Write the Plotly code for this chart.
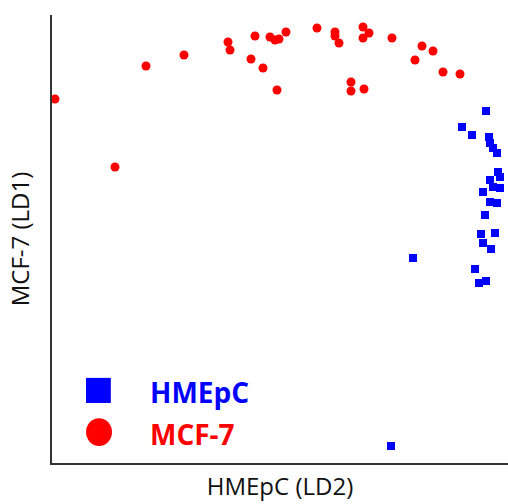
import plotly.graph_objects as go

# LD2 (x) and LD1 (y) scores (arbitrary units)
mcf7_ld2 = [3, 63, 94, 132, 176, 178, 203, 199, 211, 218, 223, 227, 234, 225, 265,
            283, 283, 287, 311, 317, 311, 340, 370, 381, 363, 391, 408, 299, 299, 312]
mcf7_ld1 = [364, 296, 397, 408, 421, 413, 427, 404, 395, 426, 423, 424, 431, 373, 435,
            431, 427, 420, 436, 430, 425, 425, 417, 412, 403, 391, 389, 381, 372, 374]

hmepc_ld2 = [434, 410, 420, 437, 438, 441, 445, 446, 448, 438, 441, 448, 431, 438, 445,
             433, 429, 443, 431, 439, 361, 423, 427, 434, 339]
hmepc_ld1 = [352, 336, 328, 326, 320, 315, 310, 291, 286, 283, 276, 275, 271, 261, 260,
             248, 229, 230, 220, 214, 205, 194, 180, 182, 17]

series_names = ["HMEpC", "MCF-7"]
series_colors = ["#0000ff", "#ff0000"]

fig = go.Figure()
fig.add_trace(go.Scatter(x=hmepc_ld2, y=hmepc_ld1, mode="markers", name=series_names[0],
                         marker=dict(symbol="square", size=8, color=series_colors[0]),
                         showlegend=False, cliponaxis=False))
fig.add_trace(go.Scatter(x=mcf7_ld2, y=mcf7_ld1, mode="markers", name=series_names[1],
                         marker=dict(symbol="circle", size=9, color=series_colors[1]),
                         showlegend=False, cliponaxis=False))

# legend drawn as large symbols with coloured bold labels
fig.add_shape(type="rect", xref="paper", yref="paper", x0=0.0746, x1=0.129, y0=0.134, y1=0.190,
              fillcolor=series_colors[0], line=dict(width=0))
fig.add_shape(type="circle", xref="paper", yref="paper", x0=0.0746, x1=0.1316, y0=0.038, y1=0.100,
              fillcolor=series_colors[1], line=dict(width=0))
fig.add_annotation(xref="paper", yref="paper", x=0.21, y=0.158, xanchor="left", yanchor="middle",
                   text="<b>" + series_names[0] + "</b>", showarrow=False,
                   font=dict(family="Open Sans", size=28, color=series_colors[0]))
fig.add_annotation(xref="paper", yref="paper", x=0.21, y=0.064, xanchor="left", yanchor="middle",
                   text="<b>" + series_names[1] + "</b>", showarrow=False,
                   font=dict(family="Open Sans", size=28, color=series_colors[1]))

axis_common = dict(showline=True, linecolor="#333333", linewidth=2, showgrid=False,
                   zeroline=False, showticklabels=False, ticks="", automargin=False)
fig.update_xaxes(range=[0, 456], title=dict(text="HMEpC (LD2)", standoff=14,
                 font=dict(family="Open Sans", size=24, color="#111111")), **axis_common)
fig.update_yaxes(range=[0, 448], title=dict(text="MCF-7 (LD1)", standoff=14,
                 font=dict(family="Open Sans", size=24, color="#111111")), **axis_common)

fig.update_layout(width=508, height=504, margin=dict(l=52, r=0, t=15, b=41),
                  plot_bgcolor="white", paper_bgcolor="white")
fig.write_html("out.html", config={"displayModeBar": False},
               post_script="document.body.style.margin='0';")
